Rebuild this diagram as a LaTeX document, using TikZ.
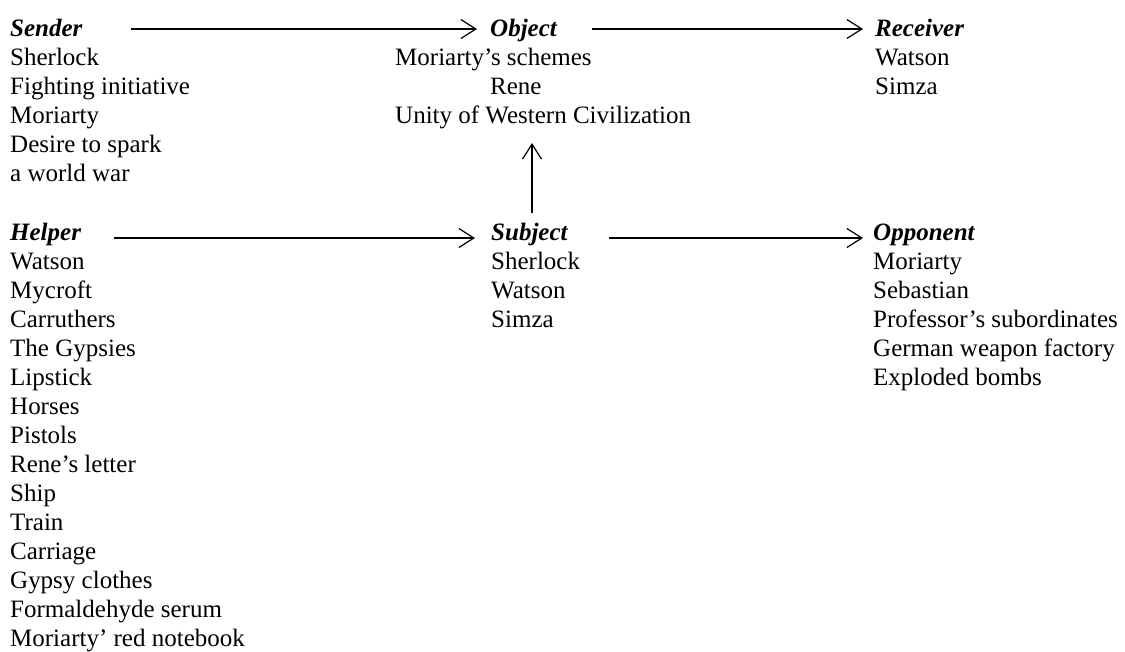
\documentclass[tikz,border=0pt]{standalone}
\usepackage{fontspec}
\setmainfont{Liberation Serif}
\usetikzlibrary{arrows.meta}

\begin{document}
\begin{tikzpicture}[x=1pt,y=-1pt,
        every node/.style={inner sep=0pt,anchor=base west,font=\fontsize{25}{29}\selectfont},
        role/.style={font=\fontsize{25}{29}\selectfont\bfseries\itshape},
        arr/.style={line width=1.2pt,-{Straight Barb[length=15pt,width=19pt]}}]
        \useasboundingbox (0,0) rectangle (1125,651);

        % top row
        \node[role] (sender) at (10,36){Sender};
        \node[role] (object) at (490,36){Object};
        \node[role] (receiver) at (875,36){Receiver};
        \foreach \txt [count=\i] in {Sherlock,Fighting initiative,Moriarty,Desire to spark,a world war}
            \node (sender-\i) at (10,36+29*\i){\txt};
        \node (schemes) at (395,65){Moriarty’s schemes};
        \node (rene) at (490,94){Rene};
        \node (unity) at (395,123){Unity of Western Civilization};
        \foreach \txt [count=\i] in {Watson,Simza}
            \node (receiver-\i) at (875,36+29*\i){\txt};

        % bottom row
        \node[role] (helper) at (10,240){Helper};
        \node[role] (subject) at (491,240){Subject};
        \node[role] (opponent) at (873,240){Opponent};
        \foreach \txt [count=\i] in {Watson,Mycroft,Carruthers,The Gypsies,Lipstick,Horses,Pistols,Rene’s letter,Ship,Train,Carriage,Gypsy clothes,Formaldehyde serum,Moriarty’ red notebook}
            \node (helper-\i) at (10,240+29*\i){\txt};
        \foreach \txt [count=\i] in {Sherlock,Watson,Simza}
            \node (subject-\i) at (491,240+29*\i){\txt};
        \foreach \txt [count=\i] in {Moriarty,Sebastian,Professor’s subordinates,German weapon factory,Exploded bombs}
            \node (opponent-\i) at (873,240+29*\i){\txt};

        % arrows
        \draw[arr] ([xshift=48pt,yshift=7pt]sender.base east)--([xshift=-13pt,yshift=7pt]object.base west);
        \draw[arr] ([xshift=35pt,yshift=7pt]object.base east)--([xshift=-12pt,yshift=7pt]receiver.base west);
        \draw[arr] ([xshift=33pt,yshift=2pt]helper.base east)--([xshift=-16pt,yshift=2pt]subject.base west);
        \draw[arr] ([xshift=41pt,yshift=2pt]subject.base east)--([xshift=-10pt,yshift=2pt]opponent.base west);
        \coordinate (up) at ([xshift=41pt,yshift=27pt]subject.base west);
        \draw[arr,shorten >=20pt] (up)--(up |- unity.base);
    \end{tikzpicture}
\end{document}
